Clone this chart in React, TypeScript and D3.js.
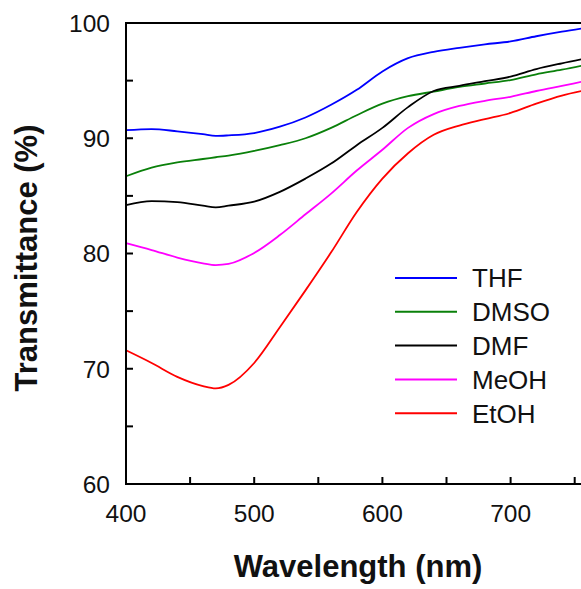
import React from "react";
import * as d3 from "d3";

const wavelengths = [400, 420, 440, 460, 470, 480, 500, 520, 540, 560, 580, 600, 620, 640, 660, 680, 700, 720, 740, 760];

const thf = [90.7, 90.8, 90.6, 90.35, 90.2, 90.25, 90.45, 91.0, 91.8, 92.9, 94.2, 95.8, 96.95, 97.5, 97.85, 98.15, 98.4, 98.85, 99.25, 99.6];
const dmso = [86.7, 87.45, 87.9, 88.2, 88.35, 88.5, 88.9, 89.4, 90.0, 90.9, 92.0, 93.0, 93.65, 94.05, 94.45, 94.75, 95.05, 95.55, 95.95, 96.4];
const dmf = [84.2, 84.55, 84.45, 84.15, 84.0, 84.15, 84.5, 85.35, 86.5, 87.8, 89.4, 90.9, 92.7, 94.1, 94.55, 94.95, 95.35, 96.0, 96.5, 96.95];
const meoh = [80.9, 80.3, 79.65, 79.15, 79.0, 79.1, 80.05, 81.6, 83.4, 85.2, 87.2, 89.0, 90.9, 92.1, 92.8, 93.25, 93.6, 94.1, 94.55, 95.0];
const etoh = [71.6, 70.5, 69.3, 68.5, 68.3, 68.6, 70.5, 73.6, 76.8, 80.1, 83.6, 86.5, 88.7, 90.3, 91.1, 91.65, 92.2, 93.0, 93.7, 94.2];

const seriesNames = ["THF", "DMSO", "DMF", "MeOH", "EtOH"];
const seriesValues = [thf, dmso, dmf, meoh, etoh];
const seriesColors = ["#0000ff", "#0a800a", "#000000", "#ff00ff", "#ff0000"];

const xMajorTicks = [400, 500, 600, 700];
const xMinorTicks = [450, 550, 650, 750];
const yMajorTicks = [60, 70, 80, 90, 100];
const yMinorTicks = [65, 75, 85, 95];

const W = 581;
const H = 589;
const FONT = "'Liberation Sans', Arial, Helvetica, sans-serif";

export default function App() {
  const x = d3.scaleLinear().domain([400, 800]).range([126, 638.8]);
  const y = d3.scaleLinear().domain([60, 100]).range([484, 23]);
  const left = x(400);
  const bottom = y(60);
  const top = y(100);
  const right = x(800);
  const tickLen = 7;

  const line = d3
    .line<[number, number]>()
    .x((d) => x(d[0]))
    .y((d) => y(d[1]))
    .curve(d3.curveMonotoneX);

  return (
    <svg
      width={W}
      height={H}
      style={{ position: "absolute", left: 0, top: 0, background: "#fff" }}
      fontFamily={FONT}
    >
      <rect x={0} y={0} width={W} height={H} fill="#fff" />
      {seriesValues.map((vals, i) => (
        <path
          key={seriesNames[i]}
          d={line(wavelengths.map((w, j) => [w, vals[j]] as [number, number])) || ""}
          fill="none"
          stroke={seriesColors[i]}
          strokeWidth={1.8}
        />
      ))}
      {/* frame */}
      <line x1={left} x2={left} y1={top - 1} y2={bottom + 1} stroke="#000" strokeWidth={2} />
      <line x1={left - 1} x2={right} y1={bottom} y2={bottom} stroke="#000" strokeWidth={2} />
      <line x1={left - 1} x2={right} y1={top} y2={top} stroke="#000" strokeWidth={2} />
      {/* x ticks */}
      {[...xMajorTicks, ...xMinorTicks].map((t) => (
        <line key={"xt" + t} x1={x(t)} x2={x(t)} y1={bottom} y2={bottom - tickLen} stroke="#000" strokeWidth={2} />
      ))}
      {xMajorTicks.map((t) => (
        <text key={"xl" + t} x={x(t)} y={522} textAnchor="middle" fontSize={24.5} fill="#111">
          {t}
        </text>
      ))}
      {/* y ticks */}
      {[...yMajorTicks, ...yMinorTicks].map((t) => (
        <line key={"yt" + t} x1={left} x2={left + tickLen} y1={y(t)} y2={y(t)} stroke="#000" strokeWidth={2} />
      ))}
      {yMajorTicks.map((t) => (
        <text key={"yl" + t} x={110} y={y(t)} dy="0.36em" textAnchor="end" fontSize={24.5} fill="#111">
          {t}
        </text>
      ))}
      {/* axis titles */}
      <text x={358} y={577} textAnchor="middle" fontSize={31} fontWeight="bold" fill="#111">
        Wavelength (nm)
      </text>
      <text
        transform="translate(37,258) rotate(-90)"
        textAnchor="middle"
        fontSize={31}
        fontWeight="bold"
        fill="#111"
      >
        Transmittance (%)
      </text>
      {/* legend */}
      {seriesNames.map((name, i) => {
        const ly = 278 + i * 33.8;
        return (
          <g key={"lg" + name}>
            <line x1={395} x2={457} y1={ly} y2={ly} stroke={seriesColors[i]} strokeWidth={2} />
            <text x={472} y={ly} dy="0.36em" fontSize={26} fill="#111">
              {name}
            </text>
          </g>
        );
      })}
    </svg>
  );
}
